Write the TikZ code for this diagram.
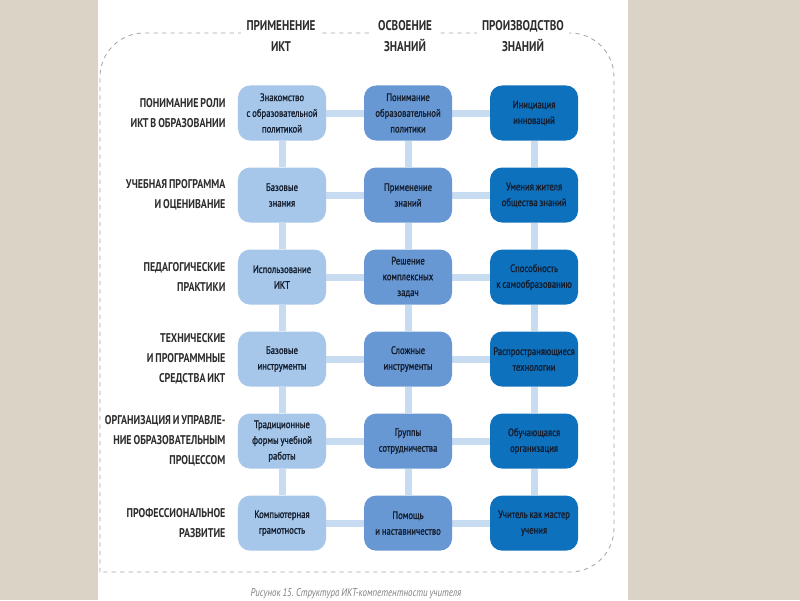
\documentclass[tikz,border=0pt]{standalone}
\usepackage{fontspec}
\setmainfont{PT Sans}[FakeStretch=0.79, WordSpace=0.75]
\newfontfamily\boxfont{PT Sans}[FakeStretch=0.8, WordSpace=0.8, FakeBold=1.3]
\usepackage{tikz}
\usetikzlibrary{positioning,backgrounds}
\definecolor{pagebeige}{RGB}{219,211,197}
\definecolor{ictlight} {RGB}{166,199,234}
\definecolor{ictmid}   {RGB}{104,152,212}
\definecolor{ictdark}  {RGB}{14,113,190}
\definecolor{linkblue} {RGB}{200,220,241}
\definecolor{labgray}  {RGB}{45,45,45}
\definecolor{boxtext}  {RGB}{20,30,46}
\tikzset{
  cbox/.style   ={rounded corners=0.3cm, align=flush center,
                  minimum width=2.2cm, minimum height=1.375cm,
                  text width=2.1cm, inner sep=1pt,
                  font=\boxfont\fontsize{7.7}{11.2}\selectfont,
                  text=boxtext},
  pbox/.style   ={cbox, fill=ictlight},
  obox/.style   ={cbox, fill=ictmid},
  zbox/.style   ={cbox, fill=ictdark},
  rowlab/.style ={align=right, inner sep=0pt, text=labgray,
                  font=\bfseries\fontsize{9}{14.2}\selectfont},
  colhead/.style={align=center, inner sep=4pt, fill=white, text=labgray,
                  font=\bfseries\fontsize{10}{15.2}\selectfont},
  link/.style   ={draw=linkblue, line width=0.175cm},
  frame/.style  ={draw=gray!70, line width=0.6pt,
                  dash pattern=on 3pt off 3pt},
}
\begin{document}
\begin{tikzpicture}[x=0.025cm, y=-0.025cm,
                    node distance=2.05cm and 3.15cm, on grid]
  \useasboundingbox (0,0) rectangle (800,600);

  % column headers
  \node[colhead] (h1) at (281,36) {ПРИМЕНЕНИЕ\\ИКТ};
  \node[colhead] (h2) at (405,36) {ОСВОЕНИЕ\\ЗНАНИЙ};
  \node[colhead] (h3) at (523,36) {ПРОИЗВОДСТВО\\ЗНАНИЙ};

  % grid of boxes
  \node[pbox] (p1) at (282,113) {Знакомство\\с образовательной\\политикой};
  \node[obox, right=of p1] (o1) {Понимание\\образовательной\\политики};
  \node[zbox, right=of o1] (z1) {Инициация\\инноваций};

  \node[pbox, below=of p1] (p2) {Базовые\\знания};
  \node[obox, right=of p2] (o2) {Применение\\знаний};
  \node[zbox, right=of o2] (z2) {Умения жителя\\общества знаний};

  \node[pbox, below=of p2] (p3) {Использование\\ИКТ};
  \node[obox, right=of p3] (o3) {Решение\\комплексных\\задач};
  \node[zbox, right=of o3] (z3) {Способность\\\makebox[\linewidth]{к самообразованию}};

  \node[pbox, below=of p3] (p4) {Базовые\\инструменты};
  \node[obox, right=of p4] (o4) {Сложные\\инструменты};
  \node[zbox, right=of o4] (z4) {\makebox[\linewidth]{Распространяющиеся}\\технологии};

  \node[pbox, below=of p4] (p5) {Традиционные\\формы учебной\\работы};
  \node[obox, right=of p5] (o5) {Группы\\сотрудничества};
  \node[zbox, right=of o5] (z5) {Обучающаяся\\организация};

  \node[pbox, below=of p5] (p6) {Компьютерная\\грамотность};
  \node[obox, right=of p6] (o6) {Помощь\\и наставничество};
  \node[zbox, right=of o6] (z6) {\makebox[\linewidth]{Учитель как мастер}\\учения};

  % row labels
  \node[rowlab, anchor=east] (l1) at ([xshift=-0.3cm]p1.west)
        {ПОНИМАНИЕ РОЛИ\\ИКТ В ОБРАЗОВАНИИ};
  \node[rowlab, anchor=east] (l2) at ([xshift=-0.3cm]p2.west)
        {УЧЕБНАЯ ПРОГРАММА\\И ОЦЕНИВАНИЕ};
  \node[rowlab, anchor=east] (l3) at ([xshift=-0.3cm]p3.west)
        {ПЕДАГОГИЧЕСКИЕ\\ПРАКТИКИ};
  \node[rowlab, anchor=east] (l4) at ([xshift=-0.3cm]p4.west)
        {ТЕХНИЧЕСКИЕ\\И ПРОГРАММНЫЕ\\СРЕДСТВА ИКТ};
  \node[rowlab, anchor=east] (l5) at ([xshift=-0.3cm]p5.west)
        {ОРГАНИЗАЦИЯ И УПРАВЛЕ-\\НИЕ ОБРАЗОВАТЕЛЬНЫМ\\ПРОЦЕССОМ};
  \node[rowlab, anchor=east] (l6) at ([xshift=-0.3cm]p6.west)
        {ПРОФЕССИОНАЛЬНОЕ\\РАЗВИТИЕ};

  \node[anchor=base, text=gray, font=\itshape\fontsize{8}{10}\selectfont]
        (cap) at (356,596) {Рисунок 15. Структура ИКТ-компетентности учителя};

  \begin{scope}[on background layer]
    \fill[pagebeige] (0,0) rectangle (800,600);
    \fill[white] (98,0) rectangle (628,600);
    \draw[frame] (100,572) [rounded corners=1.1cm] -- (100,33) -- (614,33)
          -- (614,572) [sharp corners] -- cycle;
    \foreach \r in {1,...,6}
      \draw[link] (p\r) -- (o\r) -- (z\r);
    \foreach \r/\s in {1/2,2/3,3/4,4/5,5/6} {
      \draw[link] (p\r) -- (p\s);
      \draw[link] (o\r) -- (o\s);
      \draw[link] (z\r) -- (z\s);
    }
  \end{scope}
\end{tikzpicture}
\end{document}
